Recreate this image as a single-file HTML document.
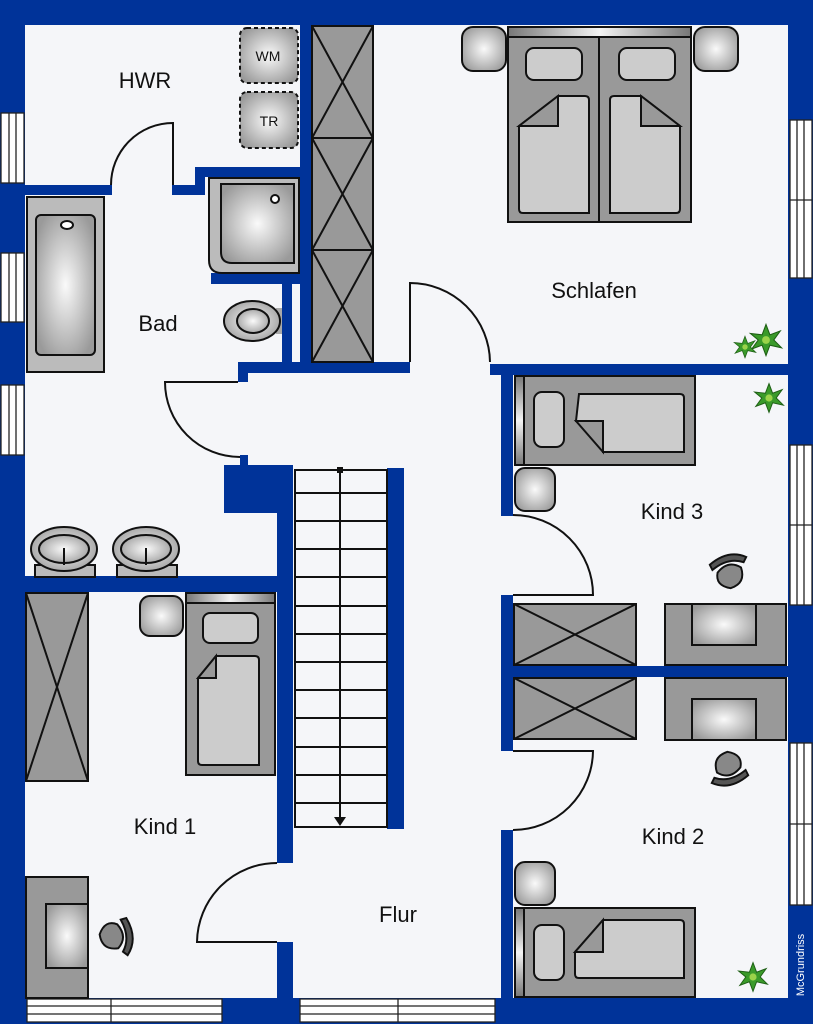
<!DOCTYPE html>
<html><head><meta charset="utf-8"><style>
html,body{margin:0;padding:0;background:#003399;}
svg{display:block}
text{font-family:"Liberation Sans",sans-serif;fill:#111}
</style></head><body>
<svg width="813" height="1024" viewBox="0 0 813 1024" xmlns="http://www.w3.org/2000/svg">
<defs>
<radialGradient id="g" cx="50%" cy="50%" r="60%"><stop offset="0" stop-color="#fafafa"/><stop offset="1" stop-color="#9a9a9a"/></radialGradient>
<linearGradient id="hb" x1="0" x2="1"><stop offset="0" stop-color="#777"/><stop offset=".5" stop-color="#f4f4f4"/><stop offset="1" stop-color="#777"/></linearGradient>
<linearGradient id="hbv" x1="0" x2="0" y1="0" y2="1"><stop offset="0" stop-color="#777"/><stop offset=".5" stop-color="#f4f4f4"/><stop offset="1" stop-color="#777"/></linearGradient>
<g id="plant"><polygon points="0,-12 3,-4 11,-7 6,0 12,6 3,4 0,12 -3,4 -11,7 -6,0 -12,-5 -3,-4" fill="#3a9a2a" stroke="#1d5e14" stroke-width=".8"/><circle r="3" fill="#9bd34a"/></g>
<g id="chair"><path d="M-14,-4 Q0,-16 14,-10 L12,-6 Q0,-10 -12,0 Z" fill="#555" stroke="#111" stroke-width="1.5"/><path d="M-8,2 Q0,-8 10,-2 Q14,10 2,14 Q-10,12 -8,2 Z" fill="#888" stroke="#111" stroke-width="1.5"/></g>
</defs>
<rect width="813" height="1024" fill="#003399"/>
<rect x="25" y="25" width="763" height="973" fill="#f5f6f9"/>
<g fill="#003399">
<rect x="25" y="185" width="87" height="10"/>
<rect x="172" y="185" width="33" height="10"/>
<rect x="195" y="167" width="105" height="10"/>
<rect x="195" y="167" width="10" height="28"/>
<rect x="300" y="25" width="12" height="348"/>
<rect x="211" y="273" width="89" height="11"/>
<rect x="282" y="283" width="10" height="90"/>
<rect x="238" y="362" width="172" height="11"/>
<rect x="238" y="362" width="10" height="20"/>
<rect x="490" y="364" width="298" height="11"/>
<rect x="240" y="455" width="8" height="12"/>
<rect x="224" y="465" width="69" height="48"/>
<rect x="277" y="465" width="16" height="398"/>
<rect x="277" y="942" width="16" height="56"/>
<rect x="25" y="576" width="268" height="16"/>
<rect x="387" y="468" width="17" height="361"/>
<rect x="501" y="373" width="12" height="143"/>
<rect x="501" y="595" width="12" height="156"/>
<rect x="501" y="830" width="12" height="168"/>
<rect x="513" y="666" width="275" height="11"/>
</g>
<g fill="#fff" stroke="#222" stroke-width="1.3">
<rect x="1" y="113" width="23" height="70"/><line x1="9" y1="113" x2="9" y2="183"/><line x1="16" y1="113" x2="16" y2="183"/>
<rect x="1" y="253" width="23" height="69"/><line x1="9" y1="253" x2="9" y2="322"/><line x1="16" y1="253" x2="16" y2="322"/>
<rect x="1" y="385" width="23" height="70"/><line x1="9" y1="385" x2="9" y2="455"/><line x1="16" y1="385" x2="16" y2="455"/>
<rect x="790" y="120" width="22" height="158"/><line x1="797" y1="120" x2="797" y2="278"/><line x1="804" y1="120" x2="804" y2="278"/><line x1="790" y1="200" x2="812" y2="200"/>
<rect x="790" y="445" width="22" height="160"/><line x1="797" y1="445" x2="797" y2="605"/><line x1="804" y1="445" x2="804" y2="605"/><line x1="790" y1="525" x2="812" y2="525"/>
<rect x="790" y="743" width="22" height="162"/><line x1="797" y1="743" x2="797" y2="905"/><line x1="804" y1="743" x2="804" y2="905"/><line x1="790" y1="824" x2="812" y2="824"/>
<rect x="27" y="999" width="195" height="23"/><line x1="27" y1="1006" x2="222" y2="1006"/><line x1="27" y1="1014" x2="222" y2="1014"/><line x1="111" y1="999" x2="111" y2="1022"/>
<rect x="300" y="999" width="195" height="23"/><line x1="300" y1="1006" x2="495" y2="1006"/><line x1="300" y1="1014" x2="495" y2="1014"/><line x1="398" y1="999" x2="398" y2="1022"/>
</g>
<g fill="none" stroke="#111" stroke-width="2">
<path d="M173,185 L173,123 A62,62 0 0 0 111,185"/>
<path d="M238,382 L165,382 A75,75 0 0 0 240,457"/>
<path d="M410,362 L410,283 A80,80 0 0 1 490,362"/>
<path d="M513,595 L593,595 A80,80 0 0 0 513,515"/>
<path d="M513,751 L593,751 A80,80 0 0 1 513,830"/>
<path d="M277,942 L197,942 A80,80 0 0 1 277,863"/>
</g>
<g stroke="#111" stroke-width="2" fill="#f5f6f9">
<rect x="295" y="470" width="92" height="357"/>
<g fill="none">
<line x1="295" y1="493" x2="387" y2="493"/><line x1="295" y1="521" x2="387" y2="521"/><line x1="295" y1="549" x2="387" y2="549"/><line x1="295" y1="577" x2="387" y2="577"/><line x1="295" y1="606" x2="387" y2="606"/><line x1="295" y1="634" x2="387" y2="634"/><line x1="295" y1="662" x2="387" y2="662"/><line x1="295" y1="690" x2="387" y2="690"/><line x1="295" y1="718" x2="387" y2="718"/><line x1="295" y1="747" x2="387" y2="747"/><line x1="295" y1="775" x2="387" y2="775"/><line x1="295" y1="803" x2="387" y2="803"/>
<line x1="340" y1="470" x2="340" y2="818"/>
</g>
</g>
<rect x="337" y="467" width="6" height="6" fill="#111"/>
<polygon points="334,817 346,817 340,826" fill="#111"/>
<g stroke="#111" stroke-width="2">
<rect x="240" y="28" width="58" height="55" rx="7" fill="url(#g)" stroke-dasharray="4,3"/>
<rect x="240" y="92" width="58" height="56" rx="7" fill="url(#g)" stroke-dasharray="4,3"/>
<rect x="312" y="26" width="61" height="336" fill="#999"/>
<path d="M312,138 H373 M312,250 H373 M312,26 L373,138 M373,26 L312,138 M312,138 L373,250 M373,138 L312,250 M312,250 L373,362 M373,250 L312,362" fill="none"/>
<rect x="27" y="197" width="77" height="175" fill="#bbb"/>
<rect x="36" y="215" width="59" height="140" rx="5" fill="url(#g)"/>
<ellipse cx="67" cy="225" rx="6" ry="4" fill="#fff"/>
<path d="M209,178 H299 V273 H222 Q209,273 209,260 Z" fill="#bbb"/>
<path d="M221,184 H294 V263 H232 Q221,263 221,252 Z" fill="url(#g)"/>
<circle cx="275" cy="199" r="4" fill="#fff"/>
<rect x="276" y="308" width="6" height="26" fill="#aaa" stroke="none"/>
<ellipse cx="252" cy="321" rx="28" ry="20" fill="url(#g)"/>
<ellipse cx="253" cy="321" rx="16" ry="12" fill="url(#g)"/>
<rect x="35" y="565" width="60" height="12" fill="#bbb"/>
<rect x="117" y="565" width="60" height="12" fill="#bbb"/>
<ellipse cx="64" cy="549" rx="33" ry="22" fill="url(#g)"/>
<ellipse cx="64" cy="549" rx="25" ry="14" fill="url(#g)"/>
<ellipse cx="146" cy="549" rx="33" ry="22" fill="url(#g)"/>
<ellipse cx="146" cy="549" rx="25" ry="14" fill="url(#g)"/>
<line x1="64" y1="548" x2="64" y2="565"/><line x1="146" y1="548" x2="146" y2="565"/>
<rect x="26" y="593" width="62" height="188" fill="#999"/>
<path d="M26,593 L88,781 M88,593 L26,781" fill="none"/>
<rect x="140" y="596" width="43" height="40" rx="10" fill="url(#g)"/>
<rect x="186" y="593" width="89" height="182" fill="#999"/>
<rect x="186" y="593" width="89" height="10" fill="url(#hb)"/>
<rect x="203" y="613" width="55" height="30" rx="7" fill="#ccc"/>
<path d="M216,656 H255 Q259,656 259,660 V765 H202 Q198,765 198,761 V678 Z" fill="#ccc"/>
<path d="M198,678 L216,656 V678 Z" fill="#999"/>
<rect x="26" y="877" width="62" height="121" fill="#999"/>
<rect x="46" y="904" width="42" height="64" fill="url(#g)"/>
<rect x="462" y="27" width="44" height="44" rx="11" fill="url(#g)"/>
<rect x="694" y="27" width="44" height="44" rx="11" fill="url(#g)"/>
<rect x="508" y="27" width="183" height="195" fill="#999"/>
<rect x="508" y="27" width="183" height="10" fill="url(#hb)"/>
<line x1="599" y1="37" x2="599" y2="222"/>
<rect x="526" y="48" width="56" height="32" rx="8" fill="#ccc"/>
<rect x="619" y="48" width="56" height="32" rx="8" fill="#ccc"/>
<path d="M558,96 H585 Q589,96 589,100 V213 H523 Q519,213 519,209 V126 Z" fill="#ccc"/>
<path d="M519,126 L558,96 V126 Z" fill="#999"/>
<path d="M641,96 H614 Q610,96 610,100 V213 H676 Q680,213 680,209 V126 Z" fill="#ccc"/>
<path d="M680,126 L641,96 V126 Z" fill="#999"/>
<rect x="515" y="376" width="180" height="89" fill="#999"/>
<rect x="515" y="376" width="9" height="89" fill="url(#hbv)"/>
<rect x="534" y="392" width="30" height="55" rx="8" fill="#ccc"/>
<path d="M579,394 H680 Q684,394 684,398 V452 H603 V421 H576 Z" fill="#ccc"/>
<path d="M576,421 H603 V452 Z" fill="#999"/>
<rect x="515" y="468" width="40" height="43" rx="10" fill="url(#g)"/>
<rect x="514" y="604" width="122" height="61" fill="#999"/>
<path d="M514,604 L636,665 M636,604 L514,665" fill="none"/>
<rect x="665" y="604" width="121" height="61" fill="#999"/>
<rect x="692" y="604" width="64" height="41" fill="url(#g)"/>
<rect x="514" y="678" width="122" height="61" fill="#999"/>
<path d="M514,678 L636,739 M636,678 L514,739" fill="none"/>
<rect x="665" y="678" width="121" height="62" fill="#999"/>
<rect x="692" y="699" width="64" height="41" fill="url(#g)"/>
<rect x="515" y="862" width="40" height="43" rx="10" fill="url(#g)"/>
<rect x="515" y="908" width="180" height="89" fill="#999"/>
<rect x="515" y="908" width="9" height="89" fill="url(#hbv)"/>
<rect x="534" y="925" width="30" height="55" rx="8" fill="#ccc"/>
<path d="M603,920 H680 Q684,920 684,924 V978 H579 Q575,978 575,974 V952 Z" fill="#ccc"/>
<path d="M575,952 L603,920 V952 Z" fill="#999"/>
</g>
<use href="#chair" transform="translate(728,570) scale(1.3)"/>
<use href="#chair" transform="translate(730,770) rotate(180) scale(1.3)"/>
<use href="#chair" transform="translate(118,935) rotate(100) scale(1.3)"/>
<use href="#plant" transform="translate(766,340) scale(1.3)"/>
<use href="#plant" transform="translate(745,347) scale(.9)"/>
<use href="#plant" transform="translate(769,398) scale(1.2)"/>
<use href="#plant" transform="translate(753,977) scale(1.2)"/>
<g font-size="22" text-anchor="middle">
<text x="145" y="88">HWR</text>
<text x="158" y="331">Bad</text>
<text x="594" y="298">Schlafen</text>
<text x="672" y="519">Kind 3</text>
<text x="165" y="834">Kind 1</text>
<text x="673" y="844">Kind 2</text>
<text x="398" y="922">Flur</text>
</g>
<text x="268" y="61" font-size="14" text-anchor="middle">WM</text>
<text x="269" y="126" font-size="14" text-anchor="middle">TR</text>
<text transform="translate(804,965) rotate(-90)" font-size="11" text-anchor="middle" style="fill:#fff">McGrundriss</text>
</svg>
</body></html>
